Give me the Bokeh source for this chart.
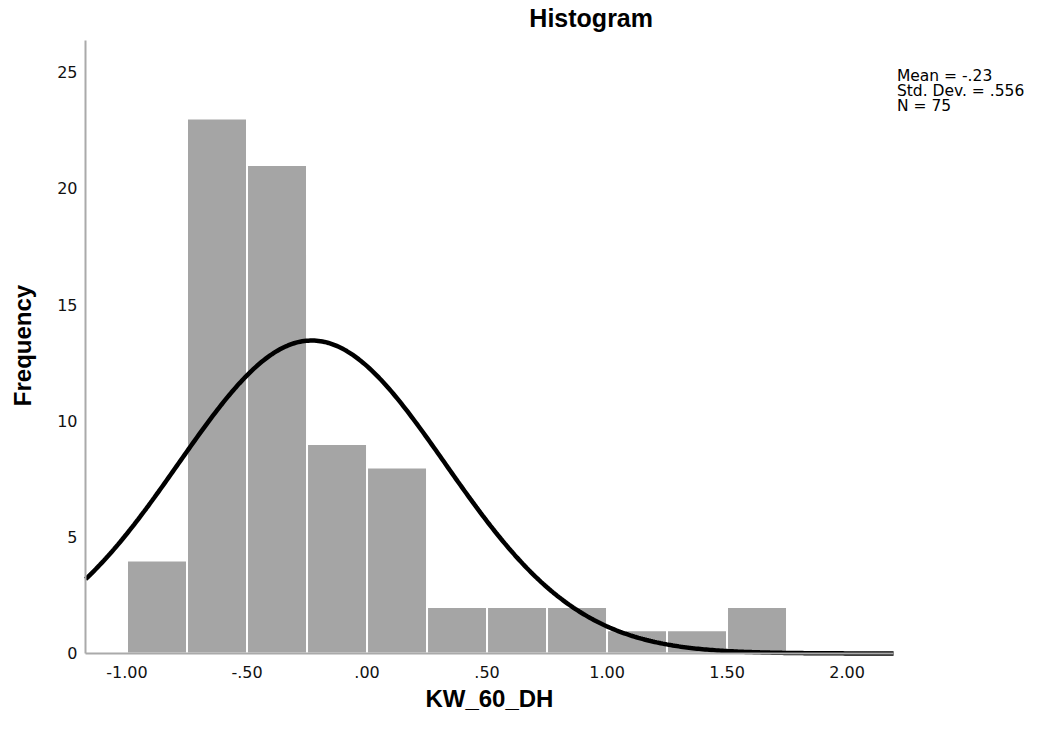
import numpy as np
from bokeh.plotting import figure
from bokeh.models import Label, Range1d, FixedTicker
from bokeh.embed import file_html
from bokeh.resources import INLINE

# Data
bin_lefts = [-1.00, -0.75, -0.50, -0.25, 0.00, 0.25, 0.50, 0.75, 1.00, 1.25, 1.50]
bin_width = 0.25
counts = [4, 23, 21, 9, 8, 2, 2, 2, 1, 1, 2]
mean_val = -0.23
std_val = 0.556
n_val = 75
x_ticks = [-1.0, -0.5, 0.0, 0.5, 1.0, 1.5, 2.0]
x_tick_labels = ["-1.00", "-.50", ".00", ".50", "1.00", "1.50", "2.00"]
y_ticks = [0, 5, 10, 15, 20, 25]
stats_lines = ["Mean = -.23", "Std. Dev. = .556", "N = 75"]

FONT = "DejaVu Sans"
BOLD_FONT = "Liberation Sans"
X_LO, X_HI = -1.173, 2.194
Y_TOP = 26.35

p = figure(width=1027, height=713, output_backend="svg", toolbar_location=None,
           x_range=Range1d(-1.5272, 2.752), y_range=Range1d(-2.58, 28.07),
           min_border_left=0, min_border_right=0, min_border_top=0, min_border_bottom=0)
p.outline_line_color = None
p.xgrid.visible = False
p.ygrid.visible = False
p.background_fill_color = "white"
p.border_fill_color = "white"

rights = [l + bin_width for l in bin_lefts]
p.quad(left=bin_lefts, right=rights, bottom=0, top=counts,
       fill_color="#a5a5a5", line_color="white", line_width=2)

xs = np.linspace(X_LO, X_HI, 400)
ys = n_val * bin_width * np.exp(-0.5 * ((xs - mean_val) / std_val) ** 2) / (std_val * np.sqrt(2 * np.pi))
p.line(xs, ys, line_color="black", line_width=4.5)

for ax in (p.xaxis[0], p.yaxis[0]):
    ax.axis_line_color = "#aaaaaa"
    ax.axis_line_width = 2
    ax.major_tick_line_color = None
    ax.minor_tick_line_color = None
    ax.major_tick_out = 0
    ax.major_tick_in = 0
    ax.major_label_text_font = FONT
    ax.major_label_text_font_size = "16px"
    ax.major_label_text_color = "#111111"

p.xaxis.fixed_location = 0
p.xaxis.bounds = (X_LO, X_HI)
p.xaxis.ticker = FixedTicker(ticks=x_ticks)
p.xaxis.major_label_overrides = {t: l for t, l in zip(x_ticks, x_tick_labels)}
p.xaxis.major_label_standoff = 13

p.yaxis.fixed_location = X_LO
p.yaxis.bounds = (0, Y_TOP)
p.yaxis.ticker = FixedTicker(ticks=y_ticks)
p.yaxis.major_label_standoff = 8

# Axis titles
p.add_layout(Label(x=0.510, y=-1.93, text="KW_60_DH", text_align="center",
                   text_baseline="middle", text_font=BOLD_FONT, text_font_size="24px",
                   text_font_style="bold", text_color="black"))
p.add_layout(Label(x=-1.4355, y=13.24, text="Frequency", text_align="center",
                   text_baseline="middle", angle=np.pi / 2, text_font=BOLD_FONT,
                   text_font_size="24px", text_font_style="bold", text_color="black"))

# Title
p.add_layout(Label(x=0.934, y=27.3, text="Histogram", text_align="center",
                   text_baseline="middle", text_font=BOLD_FONT, text_font_size="25px",
                   text_font_style="bold", text_color="black"))

# Stats text
stats_y = [24.81, 24.16, 23.52]
for s, yy in zip(stats_lines, stats_y):
    p.add_layout(Label(x=2.208, y=yy, text=s, text_align="left",
                       text_baseline="middle", text_font=FONT, text_font_size="15.5px",
                       text_color="black"))

open("out.html", "w").write(file_html(p, INLINE))
